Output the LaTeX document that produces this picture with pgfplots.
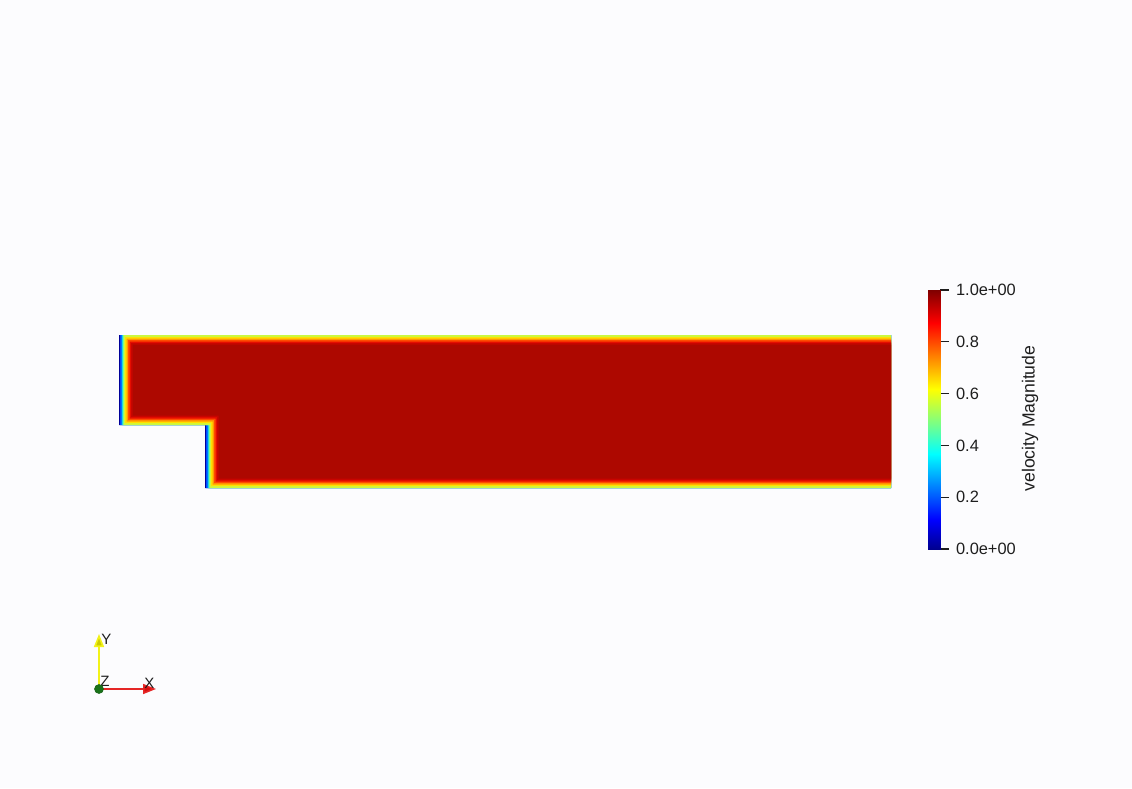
\documentclass[border=0pt]{standalone}
\usepackage{pgfplots}
\pgfplotsset{compat=1.18}
\usepackage{fontspec}
\setmainfont{Liberation Sans}
\usetikzlibrary{arrows.meta}
\definecolor{bg}{RGB}{252,252,254}
\definecolor{txt}{RGB}{30,30,30}
\definecolor{c1}{rgb}{0,0,0.6}
\definecolor{c2}{rgb}{0,0.3,1}
\definecolor{c3}{rgb}{0,0.75,1}
\definecolor{c4}{rgb}{0.35,1,0.65}
\definecolor{c5}{rgb}{0.8,0.97,0.25}
\definecolor{c6}{rgb}{1,0.88,0}
\definecolor{c7}{rgb}{1,0.6,0}
\definecolor{c8}{rgb}{1,0.3,0}
\definecolor{c9}{rgb}{0.9,0.05,0}
\definecolor{c10}{rgb}{0.78,0.02,0}
\definecolor{c11}{rgb}{0.68,0.03,0}
\pgfplotsset{colormap={pvjet}{rgb(0cm)=(0,0,0.5625) rgb(1.11cm)=(0,0,1) rgb(3.65cm)=(0,1,1) rgb(4.92cm)=(0.5,1,0.5) rgb(6.19cm)=(1,1,0) rgb(8.73cm)=(1,0,0) rgb(10cm)=(0.5,0,0)}}
\begin{document}
\begin{tikzpicture}
\begin{axis}[at={(0,0)},anchor=south west,width=566pt,height=394pt,scale only axis,
  xmin=0,xmax=1132,ymin=0,ymax=788,hide axis,clip=false]
\addplot[fill=bg,draw=none] coordinates {(0,0) (1132,0) (1132,788) (0,788)} -- cycle;
% domain layers: (119+dv,453-dh) (891,453-dh) (891,300+dh) (205+dv,300+dh) (205+dv,363+dh) (119+dv,363+dh)
\addplot[fill=c1,draw=none] coordinates {(119,453) (891,453) (891,300) (205,300) (205,363) (119,363)} -- cycle;
\addplot[fill=c2,draw=none] coordinates {(120,453) (891,453) (891,300) (206,300) (206,363) (120,363)} -- cycle;
\addplot[fill=c3,draw=none] coordinates {(121.5,453) (891,453) (891,300) (207.5,300) (207.5,363) (121.5,363)} -- cycle;
\addplot[fill=c4,draw=none] coordinates {(122.5,453) (891,453) (891,300) (208.5,300) (208.5,363) (122.5,363)} -- cycle;
\addplot[fill=c5,draw=none] coordinates {(123.5,453) (891,453) (891,300) (209.5,300) (209.5,363) (123.5,363)} -- cycle;
\addplot[fill=c6,draw=none] coordinates {(125,451) (891,451) (891,302) (211,302) (211,365) (125,365)} -- cycle;
\addplot[fill=c7,draw=none] coordinates {(126.5,449.5) (891,449.5) (891,303.5) (212.5,303.5) (212.5,366.5) (126.5,366.5)} -- cycle;
\addplot[fill=c8,draw=none] coordinates {(128,448) (891,448) (891,305) (214,305) (214,368) (128,368)} -- cycle;
\addplot[fill=c9,draw=none] coordinates {(129.5,446.5) (891,446.5) (891,306.5) (215.5,306.5) (215.5,369.5) (129.5,369.5)} -- cycle;
\addplot[fill=c10,draw=none] coordinates {(131,445) (891,445) (891,308) (217,308) (217,371) (131,371)} -- cycle;
\addplot[fill=c11,draw=none] coordinates {(132.5,443.5) (891,443.5) (891,309.5) (218.5,309.5) (218.5,372.5) (132.5,372.5)} -- cycle;
% orientation triad
\addplot[draw={rgb,1:red,0.95;green,0.95;blue,0.1},line width=0.8pt,-{Triangle[length=6.5pt,width=5pt,fill={rgb,1:red,0.8;green,0.8;blue,0}]}] coordinates {(99,99) (99,154)};
\addplot[draw={rgb,1:red,0.9;green,0.15;blue,0.15},line width=0.8pt,-{Triangle[length=6.5pt,width=5pt,fill={rgb,1:red,0.85;green,0.05;blue,0.05}]}] coordinates {(99,99) (156,99)};
\addplot[only marks,mark=*,mark size=2.2pt,mark options={fill={rgb,1:red,0.1;green,0.45;blue,0.1},draw={rgb,1:red,0.1;green,0.4;blue,0.1}}] coordinates {(99,99)};
\node[font=\fontsize{7.5}{9}\selectfont,text=txt,anchor=west,inner sep=0] at (axis cs:101,149) {Y};
\node[font=\fontsize{7.5}{9}\selectfont,text=txt,anchor=west,inner sep=0] at (axis cs:144,105) {X};
\node[font=\fontsize{7.5}{9}\selectfont,text=txt,anchor=west,inner sep=0] at (axis cs:100,107) {Z};
\node[rotate=90,font=\fontsize{8.8}{10}\selectfont,text=txt] at (axis cs:1030,369.5) {velocity Magnitude};
\end{axis}
\begin{axis}[at={(464pt,119.5pt)},anchor=south west,width=6pt,height=129.5pt,scale only axis,
  xmin=0,xmax=1,ymin=0,ymax=1,hide x axis,axis y line*=right,y axis line style={draw=none},
  colormap name=pvjet,point meta min=0,point meta max=1,
  ytick={0,0.2,0.4,0.6,0.8,1},yticklabels={0.0e+00,0.2,0.4,0.6,0.8,1.0e+00},
  tick align=outside,major tick length=4.5pt,tick style={draw=txt,line width=0.6pt},
  yticklabel style={font=\fontsize{8.2}{9}\selectfont,text=txt,anchor=west,xshift=0pt}]
\addplot[surf,shader=interp,point meta=y] coordinates {
(0,0) (1,0)

(0,0.111) (1,0.111)

(0,0.365) (1,0.365)

(0,0.492) (1,0.492)

(0,0.619) (1,0.619)

(0,0.873) (1,0.873)

(0,1) (1,1)
};
\end{axis}
\end{tikzpicture}
\end{document}
